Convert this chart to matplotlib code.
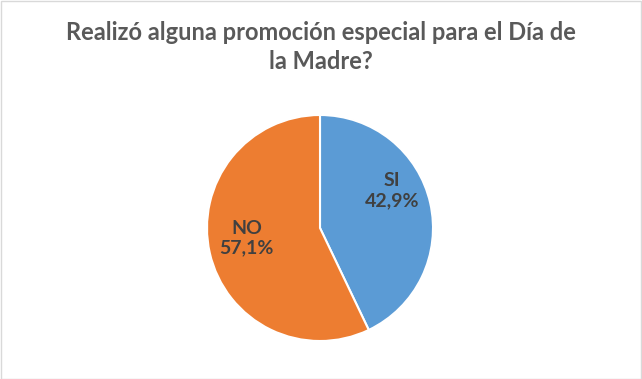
import matplotlib.pyplot as plt
from matplotlib.patches import Rectangle

categories = ["SI", "NO"]
values = [42.9, 57.1]
colors = ["#5B9BD5", "#ED7D31"]
title = "Realizó alguna promoción especial para el Día de\nla Madre?"

W, H = 642, 379
fig = plt.figure(figsize=(W / 100, H / 100), dpi=100)
fig.patch.set_facecolor("white")

cx, cy, r = 320, 228, 113
ax = fig.add_axes([(cx - r) / W, (H - cy - r) / H, 2 * r / W, 2 * r / H])
wedges, _ = ax.pie(values, colors=colors, startangle=90, counterclock=False,
                   wedgeprops=dict(edgecolor="white", linewidth=1.5))
ax.set_aspect("equal")
ax.set_xlim(-1, 1)
ax.set_ylim(-1, 1)

label_pos = [(0.64, 0.33), (-0.65, -0.09)]
for cat, v, (x, y) in zip(categories, values, label_pos):
    ax.text(x, y, f"{cat}\n{v:.1f}%".replace(".", ","), ha="center", va="center",
            fontsize=14, fontweight="bold", color="#404040", family="Lato",
            linespacing=1.2)

fig.text(0.5, (H - 47) / H, title, ha="center", va="center", fontsize=17,
         fontweight="bold", color="#595959", family="Lato", linespacing=1.35)

fig.patches.append(Rectangle((0.5 / W, 0.5 / H), 1 - 1.5 / W, 1 - 1.5 / H,
                             transform=fig.transFigure, fill=False,
                             edgecolor="#D9D9D9", linewidth=1))

fig.savefig("out.png", dpi=100)
